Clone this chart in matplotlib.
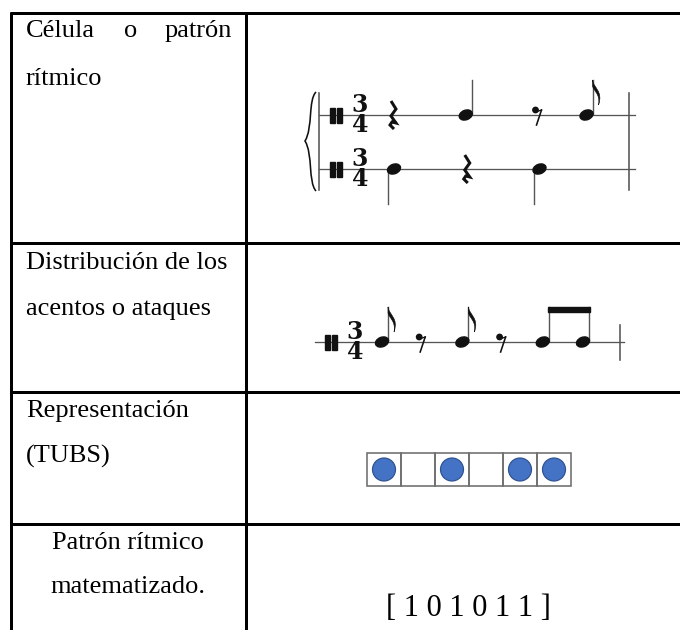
import numpy as np
import matplotlib
matplotlib.use('Agg')
import matplotlib.pyplot as plt
from matplotlib.patches import Ellipse, Rectangle, Circle, PathPatch
from matplotlib.path import Path

# row labels of the table (left column), one list of lines per row
row_labels = [
    ['Célula o patrón', 'rítmico'],
    ['Distribución de los', 'acentos o ataques'],
    ['Representación', '(TUBS)'],
    ['Patrón rítmico', 'matematizado.'],
]

# rhythmic cell, two voices in 3/4 ('n' = note, 'r' = rest, duration in beats)
upper_voice = [('r', 1.0), ('n', 1.0), ('r', 0.5), ('n', 0.5)]
lower_voice = [('n', 1.0), ('r', 1.0), ('n', 1.0)]
# distribution of attacks
accents = [('n', 0.5), ('r', 0.5), ('n', 0.5), ('r', 0.5), ('n', 0.5), ('n', 0.5)]
beam_group = [4, 5]
# TUBS / binary pattern
tubs = [1, 0, 1, 0, 1, 1]
time_sig = ('3', '4')

SERIF = 'Liberation Serif'
INK = '#111111'
STAFF = '#555555'


def px(w):
    return w * 0.72


def spacing(d, base):
    return base * (d / 0.5) ** 0.6


def positions(voice, x0, base):
    xs = []
    x = x0
    for kind, d in voice:
        xs.append(x)
        x += spacing(d, base)
    return xs


def notehead(ax, x, y):
    ax.add_patch(Ellipse((x, y), 13.5, 9.5, angle=-22, color=INK, zorder=4))


def stem(ax, x, y, up=True, length=35):
    if up:
        ax.plot([x + 6, x + 6], [y - 1, y - length], color=STAFF, lw=px(1.4), zorder=3)
        return x + 6, y - length
    ax.plot([x - 6, x - 6], [y + 1, y + length], color=STAFF, lw=px(1.4), zorder=3)
    return x - 6, y + length


def flag(ax, xs, yt):
    verts = [(xs, yt), (xs + 1, yt + 8), (xs + 11, yt + 11), (xs + 6, yt + 25),
             (xs + 8, yt + 14), (xs + 1, yt + 11), (xs, yt + 6), (xs, yt)]
    codes = [Path.MOVETO, Path.CURVE4, Path.CURVE4, Path.CURVE4,
             Path.CURVE4, Path.CURVE4, Path.CURVE4, Path.CLOSEPOLY]
    ax.add_patch(PathPatch(Path(verts, codes), color=INK, lw=0.4, zorder=4))


def quarter_rest(ax, x, y):
    pts = np.array([(-2, -14), (3, -6), (-2, 1), (3, 8), (-1, 7), (-3, 10), (1, 14)])
    ax.plot(x + pts[:, 0], y + pts[:, 1], color=INK, lw=px(3.0),
            solid_joinstyle='miter', solid_capstyle='butt', zorder=4)


def eighth_rest(ax, x, y):
    ax.add_patch(Circle((x - 3, y - 5), 2.7, color=INK, zorder=4))
    ax.plot([x - 3, x + 3], [y - 3, y - 5], color=INK, lw=px(1.3), zorder=4)
    ax.plot([x + 3, x - 2], [y - 5, y + 10], color=INK, lw=px(1.6), zorder=4)


def clef_and_time(ax, x, y):
    ax.add_patch(Rectangle((x, y - 7), 4.8, 15, color=INK, zorder=4))
    ax.add_patch(Rectangle((x + 7, y - 7), 4.8, 15, color=INK, zorder=4))
    # time signature as one stacked text
    ax.text(x + 30, y, '\n'.join(time_sig), fontsize=17, fontweight='bold',
            family='DejaVu Serif', ha='center', va='center', multialignment='center',
            linespacing=0.74, color=INK, zorder=4)


def draw_voice(ax, voice, xs, y, up=True, beams=()):
    tops = {}
    for i, ((kind, d), x) in enumerate(zip(voice, xs)):
        if kind == 'r':
            if d == 1.0:
                quarter_rest(ax, x, y)
            else:
                eighth_rest(ax, x, y)
            continue
        notehead(ax, x, y)
        sx, sy = stem(ax, x, y, up)
        tops[i] = (sx, sy)
        if d == 0.5 and i not in beams:
            flag(ax, sx, sy)
    if beams:
        b = [tops[i] for i in beams]
        ax.add_patch(Rectangle((b[0][0] - 0.6, b[0][1]), b[-1][0] - b[0][0] + 1.2, 4.5,
                               color=INK, zorder=4))


fig = plt.figure(figsize=(6.8, 6.3), dpi=100)
ax = fig.add_axes([0, 0, 1, 1])
ax.set_xlim(0, 680)
ax.set_ylim(630, 0)
ax.axis('off')

# table grid
row_lines = [13, 243, 392, 524]
for yl in row_lines:
    ax.plot([9.5, 680], [yl, yl], color='black', lw=px(3), solid_capstyle='butt')
for xl in [11, 246]:
    ax.plot([xl, xl], [11.5, 630], color='black', lw=px(3), solid_capstyle='butt')

# left column labels
fs = 19
label_base = [37, 269, 417, 549]
ax.text(26, label_base[0], 'Célula', fontsize=fs, family=SERIF, va='baseline', ha='left')
ax.text(131, label_base[0], 'o', fontsize=fs, family=SERIF, va='baseline', ha='center')
ax.text(232, label_base[0], 'patrón', fontsize=fs, family=SERIF, va='baseline', ha='right')
ax.text(26, label_base[0] + 48, row_labels[0][1], fontsize=fs, family=SERIF, va='baseline')
for r in (1, 2):
    for k, line in enumerate(row_labels[r]):
        ax.text(26, label_base[r] + 46 * k, line, fontsize=fs, family=SERIF, va='baseline')
for k, line in enumerate(row_labels[3]):
    ax.text(128, label_base[3] + 44 * k, line, fontsize=fs, family=SERIF,
            va='baseline', ha='center')

# row 1: two-voice rhythmic cell
y_up, y_lo = 115, 169
for yy in (y_up, y_lo):
    ax.plot([319, 635], [yy, yy], color=STAFF, lw=px(1.3), zorder=2)
    clef_and_time(ax, 330, yy)
for xb in (319, 629):
    ax.plot([xb, xb], [93, 190], color=STAFF, lw=px(1.6), zorder=2)
brace = [(316, 92), (308, 100), (313, 128), (305, 141),
         (313, 154), (308, 182), (316, 191)]
bcodes = [Path.MOVETO, Path.CURVE4, Path.CURVE4, Path.CURVE4,
          Path.CURVE4, Path.CURVE4, Path.CURVE4]
ax.add_patch(PathPatch(Path(brace, bcodes), fill=False, color=INK, lw=px(1.6)))
draw_voice(ax, upper_voice, positions(upper_voice, 393, 48), y_up, up=True)
draw_voice(ax, lower_voice, positions(lower_voice, 394, 48), y_lo, up=False)

# row 2: attack distribution
y2 = 342
ax.plot([315, 624], [y2, y2], color=STAFF, lw=px(1.3), zorder=2)
ax.plot([620, 620], [325, 360], color=STAFF, lw=px(1.6), zorder=2)
clef_and_time(ax, 325, y2)
draw_voice(ax, accents, positions(accents, 382, 40.2), y2, up=True, beams=beam_group)

# row 3: TUBS boxes
bw, bx0, by0, bh = 34, 367, 453, 33
for i, v in enumerate(tubs):
    ax.add_patch(Rectangle((bx0 + i * bw, by0), bw, bh, fill=False,
                           edgecolor='#6e6e6e', lw=px(1.6), zorder=2))
    if v:
        ax.add_patch(Circle((bx0 + i * bw + bw / 2, by0 + bh / 2), 11.5,
                            facecolor='#4472C4', edgecolor='#2F528F', lw=px(1.2), zorder=3))

# row 4: binary pattern
ax.text(468, 608, '[ ' + ' '.join(str(v) for v in tubs) + ' ]', fontsize=22,
        family=SERIF, ha='center', va='center')

fig.savefig('out.png', dpi=100)
